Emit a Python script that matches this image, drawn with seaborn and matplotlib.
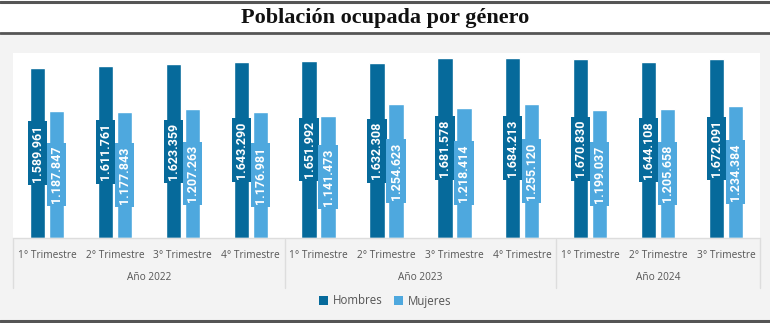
import matplotlib
matplotlib.use("Agg")
import matplotlib.pyplot as plt
import matplotlib.transforms as mtransforms
from matplotlib.patches import Patch
import seaborn as sns
import pandas as pd

title = "Población ocupada por género"
quarters = ["1° Trimestre", "2° Trimestre", "3° Trimestre", "4° Trimestre",
            "1° Trimestre", "2° Trimestre", "3° Trimestre", "4° Trimestre",
            "1° Trimestre", "2° Trimestre", "3° Trimestre"]
years = ["Año 2022", "Año 2023", "Año 2024"]
year_sizes = [4, 4, 3]
hombres = [1589961, 1611761, 1623359, 1643290, 1651992, 1632308, 1681578,
           1684213, 1670830, 1644108, 1672091]
mujeres = [1187847, 1177843, 1207263, 1176981, 1141473, 1254623, 1218414,
           1255120, 1199037, 1205658, 1234384]
series = ["Hombres", "Mujeres"]
colors = ["#066a9b", "#4ea8de"]

rows = []
for i in range(len(quarters)):
    rows.append({"pos": i, "serie": series[0], "valor": hombres[i]})
    rows.append({"pos": i, "serie": series[1], "valor": mujeres[i]})
df = pd.DataFrame(rows)

sns.set_theme(style="white")
plt.rcParams["font.family"] = ["Open Sans", "DejaVu Sans"]

W, H = 770, 323
fig = plt.figure(figsize=(W / 100, H / 100), dpi=100)
fig.patch.set_facecolor("#f3f3f3")

# white title band
fig.patches.append(plt.Rectangle((0, 1 - 33 / H), 1, 33 / H, transform=fig.transFigure,
                                 facecolor="white", edgecolor="none", zorder=0))
for yy, lw in [(1.5, 2.2), (33, 2.0), (321, 2.2)]:
    fig.add_artist(plt.Line2D([0, 1], [1 - yy / H, 1 - yy / H], transform=fig.transFigure,
                              color="#555555", lw=lw))
fig.text(0.5, 1 - 17.5 / H, title, ha="center", va="center", fontsize=16,
         fontweight="bold", family=["Liberation Serif", "DejaVu Serif"], color="#111111")

left, right, top, bottom = 13, 760, 53, 238
ax = fig.add_axes([left / W, 1 - bottom / H, (right - left) / W, (bottom - top) / H])
ax.set_facecolor("white")

sns.barplot(data=df, x="pos", y="valor", hue="serie", palette=colors, ax=ax,
            width=0.56, gap=0.2, dodge=True, legend=False, saturation=1)

ax.set_ylim(0, 1730000)
ax.set_xlim(-0.5, len(quarters) - 0.5)
ax.set_yticks([])
ax.set_ylabel("")
ax.set_xlabel("")
for s in ["top", "right", "left"]:
    ax.spines[s].set_visible(False)
ax.spines["bottom"].set_color("#dddddd")
ax.spines["bottom"].set_linewidth(1)

ax.set_xticks(range(len(quarters)))
ax.set_xticklabels(quarters, fontsize=7.3, color="#555555")
ax.tick_params(axis="x", length=0, pad=9)

def fmt(v):
    return f"{v:,}".replace(",", ".")

for cont, col in zip(ax.containers, colors):
    for bar in cont:
        h = bar.get_height()
        ax.text(bar.get_x() + bar.get_width() / 2, h / 2, fmt(int(round(h))),
                rotation=90, ha="center", va="center", color="white", fontsize=9,
                fontweight="bold", family=["Roboto", "DejaVu Sans"],
                bbox=dict(boxstyle="square,pad=0.25", facecolor=col, edgecolor="none"))

# group labels and separators
trans = mtransforms.blended_transform_factory(ax.transData, fig.transFigure)
start = -0.5
edges = [start]
for name, n in zip(years, year_sizes):
    center = start + n / 2
    ax.text(center, 1 - 277 / H, name, transform=trans, ha="center", va="center",
            fontsize=7.3, color="#555555")
    start += n
    edges.append(start)
for e in edges:
    ax.add_artist(plt.Line2D([e, e], [1 - 239 / H, 1 - 288 / H], transform=trans,
                             color="#dddddd", lw=1, clip_on=False))

handles = [Patch(facecolor=c, edgecolor="none") for c in colors]
fig.legend(handles, series, loc="center", bbox_to_anchor=(0.5, 1 - 301 / H), ncol=2,
           frameon=False, fontsize=8.3, handlelength=0.8, handleheight=0.8,
           handletextpad=0.4, columnspacing=1.0, labelcolor="#555555")

fig.savefig("out.png", dpi=100, facecolor=fig.get_facecolor())
